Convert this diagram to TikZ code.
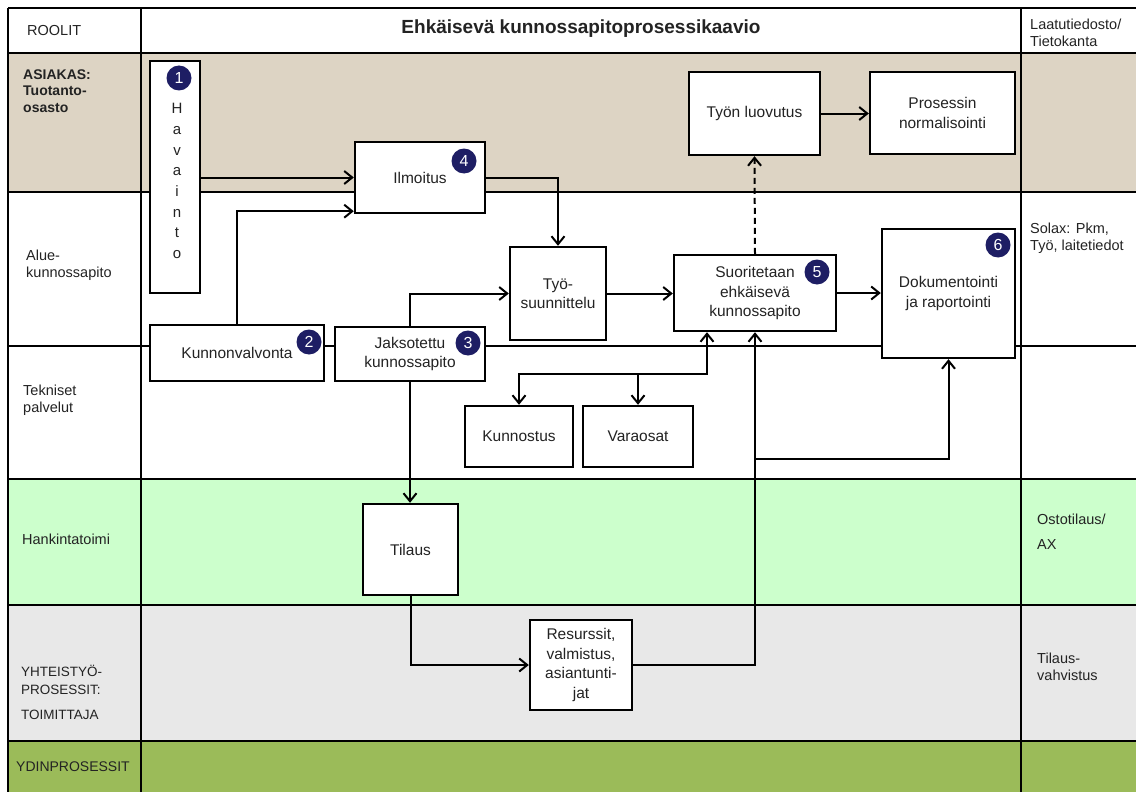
\documentclass[tikz,border=0pt]{standalone}
\usepackage{fontspec}
\setmainfont{Liberation Sans}
\usetikzlibrary{arrows.meta}
\definecolor{lanetan}{RGB}{221,212,196}
\definecolor{lanegreen}{RGB}{204,255,204}
\definecolor{lanegray}{RGB}{232,232,232}
\definecolor{coregreen}{RGB}{155,187,89}
\definecolor{badge}{RGB}{30,30,100}
\definecolor{ink}{RGB}{35,35,35}

\begin{document}
\begin{tikzpicture}[x=1pt,y=-1pt,
  >={Straight Barb[length=8pt,width=13pt]},
  stepbox/.style={draw=black, line width=2.4pt, fill=white, align=center,
    font=\fontsize{15.5}{19.5}\selectfont, text=ink, inner sep=0pt},
  flow/.style={line width=2pt, ->},
  badgenode/.style={circle, fill=badge, text=white, minimum size=25pt,
    inner sep=0pt, font=\fontsize{16}{16}\selectfont},
  lanelabel/.style={anchor=west, align=left, font=\fontsize{14.5}{16.8}\selectfont,
    text=ink, inner sep=0pt},
  thinrule/.style={line width=1.1pt},
  thickrule/.style={line width=2.6pt},
]
\useasboundingbox (0,0) rectangle (1136,792);
\fill[white] (0,0) rectangle (1136,792);

% swimlane backgrounds
\fill[white]      (8,8)   rectangle (1136,53);
\fill[lanetan]    (8,53)  rectangle (1136,192);
\fill[white]      (8,192) rectangle (1136,479);
\fill[lanegreen]  (8,479) rectangle (1136,605);
\fill[lanegray]   (8,605) rectangle (1136,741);
\fill[coregreen]  (8,741) rectangle (1136,792);

% lane rules
\foreach \yy in {53,192,346,479,741} \draw[thinrule] (8,\yy) -- (1136,\yy);
\draw[thickrule] (8,605) -- (1136,605);
\draw[thickrule] (8,8) -- (1136,8);
\draw[thickrule] (8,8) -- (8,792);
\draw[thickrule] (141,8) -- (141,792);
\draw[thickrule] (1021,8) -- (1021,792);

% header
\node[font=\bfseries\fontsize{19}{19}\selectfont, text=ink] (title) at (581,29)
  {Ehkäisevä kunnossapitoprosessikaavio};
\node[lanelabel] (roolit) at (27,31) {ROOLIT};
\node[lanelabel] (tietokanta) at (1030,33) {Laatutiedosto/\\Tietokanta};

% role labels
\node[lanelabel, font=\bfseries\fontsize{14}{16.5}\selectfont] (asiakas) at (23,91)
  {ASIAKAS:\\Tuotanto-\\osasto};
\node[lanelabel] (alue) at (26,265) {Alue-\\kunnossapito};
\node[lanelabel] (tekniset) at (23,400) {Tekniset\\palvelut};
\node[lanelabel] (hankinta) at (22,539) {Hankintatoimi};
\node[lanelabel, font=\fontsize{13.5}{17.5}\selectfont] (yhteistyo) at (21,680)
  {YHTEISTYÖ-\\PROSESSIT:};
\node[lanelabel, font=\fontsize{13.5}{17.5}\selectfont] (toimittaja) at (21,715) {TOIMITTAJA};
\node[lanelabel, font=\fontsize{14}{16}\selectfont] (ydin) at (16,767) {YDINPROSESSIT};

% data store labels
\node[lanelabel] (solax) at (1030,238) {Solax: Pkm,\\Työ, laitetiedot};
\node[lanelabel] (ostotilaus) at (1037,532) {Ostotilaus/\\[8pt]AX};
\node[lanelabel] (vahvistus) at (1037,667) {Tilaus-\\vahvistus};

% process steps
\node[stepbox, minimum width=50pt, minimum height=232pt] (hav) at (175,177) {};
\node[font=\fontsize{15}{20.7}\selectfont, align=center, text=ink, inner sep=0pt]
  (havtext) at (177,181) {H\\a\\v\\a\\i\\n\\t\\o};
\node[stepbox, minimum width=174pt, minimum height=56pt] (kv) at (237,353) {Kunnonvalvonta};
\node[stepbox, minimum width=150pt, minimum height=54pt] (jk) at (410,354)
  {Jaksotettu\\kunnossapito};
\node[stepbox, minimum width=130pt, minimum height=71pt] (il) at (420,177.5) {Ilmoitus};
\node[stepbox, minimum width=96pt, minimum height=93pt] (ts) at (558,293.5) {Työ-\\suunnittelu};
\node[stepbox, minimum width=162pt, minimum height=76pt] (se) at (755,293)
  {Suoritetaan\\ehkäisevä\\kunnossapito};
\node[stepbox, minimum width=133pt, minimum height=129pt] (dr) at (948.5,293.5)
  {Dokumentointi\\ja raportointi};
\node[stepbox, minimum width=131pt, minimum height=83pt] (tl) at (754.5,113.5) {Työn luovutus};
\node[stepbox, minimum width=145pt, minimum height=82pt] (pn) at (942.5,113)
  {Prosessin\\normalisointi};
\node[stepbox, minimum width=108pt, minimum height=61pt] (ku) at (519,436.5) {Kunnostus};
\node[stepbox, minimum width=110pt, minimum height=61pt] (vo) at (638,436.5) {Varaosat};
\node[stepbox, minimum width=95pt, minimum height=91pt] (ti) at (410.5,549.5) {Tilaus};
\node[stepbox, minimum width=102pt, minimum height=90pt] (rs) at (581,665)
  {Resurssit,\\valmistus,\\asiantunti-\\jat};

% step numbers
\node[badgenode] (b1) at (179,78) {1};
\node[badgenode] (b2) at (309,342) {2};
\node[badgenode] (b3) at (468,343) {3};
\node[badgenode] (b4) at (464,161) {4};
\node[badgenode] (b5) at (817,272) {5};
\node[badgenode] (b6) at (998,245) {6};

% junction points
\coordinate (split) at (707,374);
\coordinate (docjoin) at (755,459);

% connectors
\draw[flow] (hav.east |- il.west) -- (il.west);
\draw[flow] (kv.north) |- ([yshift=3pt]il.south west);
\draw[flow] (il.east) -| (ts.north);
\draw[flow] (jk.north) |- (ts.west);
\draw[flow] (ts.east) -- (ts.east -| se.west);
\draw[flow] (se.east) -- (se.east -| dr.west);
\draw[flow, dash pattern=on 6pt off 4pt] (se.north) -- (tl.south);
\draw[flow] (tl.east) -- (tl.east -| pn.west);
\draw[flow, <->] (split |- se.south) -- (split) -| (ku.north);
\draw[flow] (vo.north |- split) -- (vo.north);
\draw[flow] (jk.south) -- (jk.south |- ti.north);
\draw[flow] (ti.south) |- (rs.west);
\draw[flow] (rs.east) -| (se.south);
\draw[flow] (docjoin) -| (dr.south);
\end{tikzpicture}
\end{document}
